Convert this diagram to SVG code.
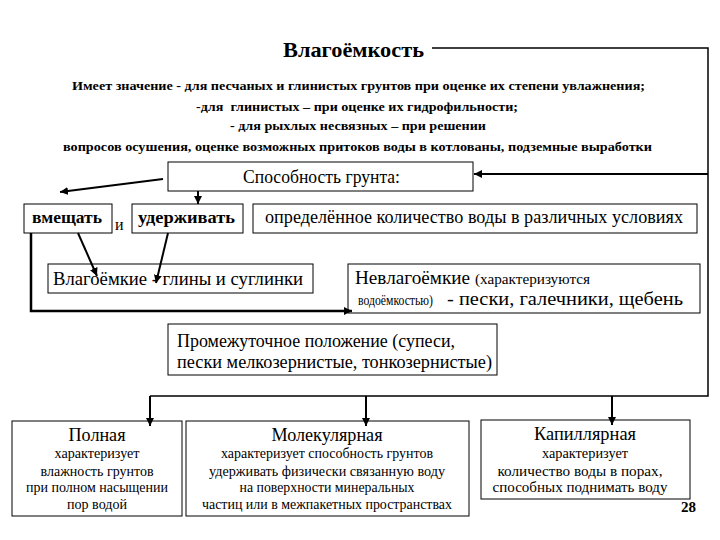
<svg xmlns="http://www.w3.org/2000/svg" width="720" height="540" viewBox="0 0 720 540" font-family="Liberation Serif, DejaVu Serif, serif">
<defs>
<marker id="ah" markerUnits="userSpaceOnUse" markerWidth="8" markerHeight="8" refX="8" refY="4" orient="auto">
<path d="M0,0 L8,4 L0,8 z" fill="#000"/>
</marker>
</defs>
<rect width="720" height="540" fill="#fff"/>

<g id="title">
<text font-family="Liberation Serif, DejaVu Serif, serif" font-weight="bold" x="283" y="57" font-size="22" textLength="141" lengthAdjust="spacingAndGlyphs">Влагоёмкость</text>
</g>
<g id="intro" font-weight="bold" font-size="13.5">
<text font-family="Liberation Serif, DejaVu Serif, serif" x="72" y="90" textLength="573" lengthAdjust="spacingAndGlyphs">Имеет значение - для песчаных и глинистых грунтов при оценке их степени увлажнения;</text>
<text font-family="Liberation Serif, DejaVu Serif, serif" x="196" y="111" textLength="322" lengthAdjust="spacingAndGlyphs" xml:space="preserve">-для  глинистых – при оценке их гидрофильности;</text>
<text font-family="Liberation Serif, DejaVu Serif, serif" x="230" y="130" textLength="256" lengthAdjust="spacingAndGlyphs">- для рыхлых несвязных – при решении</text>
<text font-family="Liberation Serif, DejaVu Serif, serif" x="63" y="151" textLength="589" lengthAdjust="spacingAndGlyphs">вопросов осушения, оценке возможных притоков воды в котлованы, подземные выработки</text>
</g>

<g id="sposobnost">
<rect x="168" y="162" width="305" height="29" fill="#fff" stroke="#000"/>
<text font-family="Liberation Serif, DejaVu Serif, serif" x="243" y="183" font-size="18" textLength="157" lengthAdjust="spacingAndGlyphs">Способность грунта:</text>
</g>
<g id="vmeshat">
<rect x="24" y="204" width="88" height="29" fill="#fff" stroke="#000"/>
<text font-family="Liberation Serif, DejaVu Serif, serif" x="32" y="223" font-size="16" font-weight="bold" textLength="70" lengthAdjust="spacingAndGlyphs">вмещать</text>
</g>
<g id="i">
<text font-family="Liberation Serif, DejaVu Serif, serif" x="115" y="230" font-size="16">и</text>
</g>
<g id="uderzhivat">
<rect x="132" y="204" width="111" height="29" fill="#fff" stroke="#000"/>
<text font-family="Liberation Serif, DejaVu Serif, serif" x="138" y="223" font-size="16.5" font-weight="bold" textLength="97" lengthAdjust="spacingAndGlyphs">удерживать</text>
</g>
<g id="opredelennoe">
<rect x="253" y="204" width="444" height="29" fill="#fff" stroke="#000"/>
<text font-family="Liberation Serif, DejaVu Serif, serif" x="265" y="223" font-size="18" textLength="418" lengthAdjust="spacingAndGlyphs">определённое количество воды в различных условиях</text>
</g>
<g id="vlagoemkie">
<rect x="48" y="264" width="265" height="29" fill="#fff" stroke="#000"/>
<text font-family="Liberation Serif, DejaVu Serif, serif" x="53" y="285" font-size="18" textLength="250" lengthAdjust="spacingAndGlyphs">Влагоёмкие - глины и суглинки</text>
</g>
<g id="nevlagoemkie">
<rect x="348" y="264" width="352" height="49" fill="#fff" stroke="#000"/>
<text font-family="Liberation Serif, DejaVu Serif, serif" x="355" y="284" font-size="18" textLength="115" lengthAdjust="spacingAndGlyphs">Невлагоёмкие</text>
<text font-family="Liberation Serif, DejaVu Serif, serif" x="475" y="284" font-size="14" textLength="115" lengthAdjust="spacingAndGlyphs">(характеризуются</text>
<text font-family="Liberation Serif, DejaVu Serif, serif" x="358" y="305" font-size="14" textLength="75" lengthAdjust="spacingAndGlyphs">водоёмкостью)</text>
<text font-family="Liberation Serif, DejaVu Serif, serif" x="447" y="305" font-size="18" textLength="236" lengthAdjust="spacingAndGlyphs">- пески, галечники, щебень</text>
</g>
<g id="promezhutochnoe" font-size="18">
<rect x="168" y="324" width="329" height="51" fill="#fff" stroke="#000"/>
<text font-family="Liberation Serif, DejaVu Serif, serif" x="177" y="347" textLength="278" lengthAdjust="spacingAndGlyphs">Промежуточное положение (супеси,</text>
<text font-family="Liberation Serif, DejaVu Serif, serif" x="177" y="368" textLength="315" lengthAdjust="spacingAndGlyphs">пески мелкозернистые, тонкозернистые)</text>
</g>
<g id="polnaya" text-anchor="middle" font-size="14">
<rect x="12" y="421" width="170" height="95" fill="#fff" stroke="#000"/>
<text font-family="Liberation Serif, DejaVu Serif, serif" x="97" y="441" font-size="18" textLength="57" lengthAdjust="spacingAndGlyphs">Полная</text>
<text font-family="Liberation Serif, DejaVu Serif, serif" x="97" y="458" textLength="85" lengthAdjust="spacingAndGlyphs">характеризует</text>
<text font-family="Liberation Serif, DejaVu Serif, serif" x="97" y="476" textLength="113" lengthAdjust="spacingAndGlyphs">влажность грунтов</text>
<text font-family="Liberation Serif, DejaVu Serif, serif" x="97" y="492" textLength="142" lengthAdjust="spacingAndGlyphs">при полном насыщении</text>
<text font-family="Liberation Serif, DejaVu Serif, serif" x="97" y="509" textLength="60" lengthAdjust="spacingAndGlyphs">пор водой</text>
</g>
<g id="molekulyarnaya" text-anchor="middle" font-size="14">
<rect x="186" y="421" width="283" height="95" fill="#fff" stroke="#000"/>
<text font-family="Liberation Serif, DejaVu Serif, serif" x="327" y="441" font-size="18" textLength="111" lengthAdjust="spacingAndGlyphs">Молекулярная</text>
<text font-family="Liberation Serif, DejaVu Serif, serif" x="327" y="458" textLength="212" lengthAdjust="spacingAndGlyphs">характеризует способность грунтов</text>
<text font-family="Liberation Serif, DejaVu Serif, serif" x="327" y="476" textLength="236" lengthAdjust="spacingAndGlyphs">удерживать физически связанную воду</text>
<text font-family="Liberation Serif, DejaVu Serif, serif" x="327" y="492" textLength="175" lengthAdjust="spacingAndGlyphs">на поверхности минеральных</text>
<text font-family="Liberation Serif, DejaVu Serif, serif" x="327" y="509" textLength="250" lengthAdjust="spacingAndGlyphs">частиц или в межпакетных пространствах</text>
</g>
<g id="kapillyarnaya" text-anchor="middle" font-size="14">
<rect x="481" y="420" width="209" height="79" fill="#fff" stroke="#000"/>
<text font-family="Liberation Serif, DejaVu Serif, serif" x="585" y="440" font-size="18" textLength="102" lengthAdjust="spacingAndGlyphs">Капиллярная</text>
<text font-family="Liberation Serif, DejaVu Serif, serif" x="585" y="458" textLength="86" lengthAdjust="spacingAndGlyphs">характеризует</text>
<text font-family="Liberation Serif, DejaVu Serif, serif" x="580" y="476" textLength="165" lengthAdjust="spacingAndGlyphs">количество воды в порах,</text>
<text font-family="Liberation Serif, DejaVu Serif, serif" x="580" y="492" textLength="175" lengthAdjust="spacingAndGlyphs">способных поднимать воду</text>
</g>
<g id="page">
<text font-family="Liberation Serif, DejaVu Serif, serif" x="681" y="512" font-size="15" font-weight="bold">28</text>
</g>

<g id="connectors" stroke="#000" fill="none" stroke-width="2">
<polyline stroke-width="1.5" points="432,48 708,48 708,396 150,396"/>
<line marker-end="url(#ah)" x1="708" y1="174" x2="474" y2="174"/>
<line marker-end="url(#ah)" x1="163" y1="179" x2="60" y2="192"/>
<line marker-end="url(#ah)" x1="198" y1="191" x2="198" y2="204"/>
<line marker-end="url(#ah)" x1="78" y1="233" x2="97" y2="276"/>
<line marker-end="url(#ah)" x1="168" y1="233" x2="156" y2="283"/>
<polyline marker-end="url(#ah)" stroke-width="2.5" points="31,233 31,311 352,311"/>
<line marker-end="url(#ah)" x1="150" y1="396" x2="150" y2="426"/>
<line marker-end="url(#ah)" x1="366" y1="396" x2="366" y2="426"/>
<line marker-end="url(#ah)" x1="612" y1="396" x2="612" y2="425"/>
</g>
</svg>
